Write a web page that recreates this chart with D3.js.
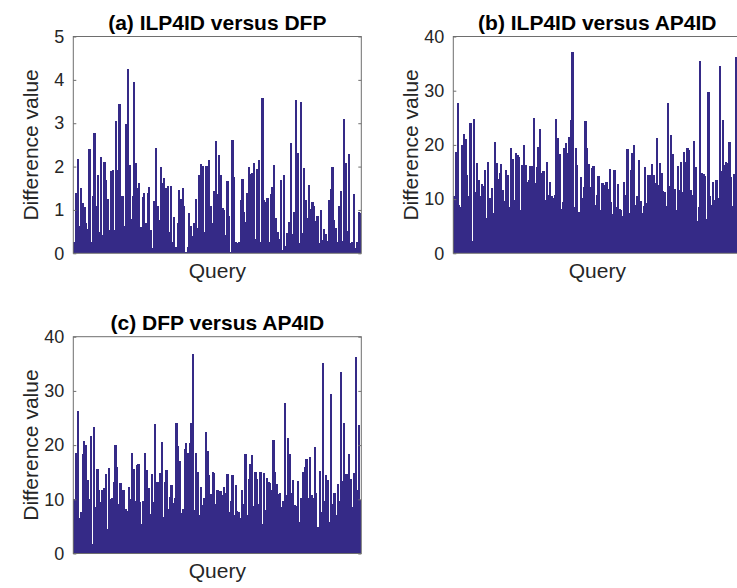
<!DOCTYPE html>
<html>
<head>
<meta charset="utf-8">
<script src="https://cdn.jsdelivr.net/npm/d3@7"></script>
<style>
  body { margin: 0; background: #fff; }
  svg { display: block; font-family: "Liberation Sans", Arial, Helvetica, sans-serif; }
</style>
</head>
<body>
<script>
// difference values per query
const diffA = [0.27,1.4,2.17,0.63,1.5,1.15,1.07,0.7,0.55,2.4,0.27,1.32,2.78,1.09,1.8,0.48,2.23,0.42,2.1,1.7,1.25,0.54,1.9,1.92,0.54,3.06,1.92,3.45,1.32,1.32,0.62,2.98,4.25,2.04,0.8,1.32,3.96,2.09,1.5,1.63,0.6,1.3,1.38,0.69,1.4,1.52,0.54,0.12,1.2,2.42,1.09,0.77,2.0,1.62,1.73,1.5,1.55,
  0.5,1.55,0.27,0.83,0.15,0.69,1.46,1.25,1.5,1.09,0.04,0.14,0.92,0.62,0.4,0.71,1.25,0.58,1.81,2.06,2.02,0.48,2.02,2.02,2.15,1.09,0.71,1.44,2.6,1.37,2.27,1.81,1.04,1.0,0.42,1.67,0.86,0.04,2.62,1.77,0.27,0.23,0.27,1.23,1.71,0.96,0.73,1.38,2.0,1.83,1.85,2.09,0.32,1.95,
  2.15,0.27,3.58,1.22,1.19,1.27,0.27,1.37,1.54,2.04,0.81,0.5,0.32,1.68,0.08,1.81,0.17,0.46,0.73,2.55,0.45,0.96,3.54,2.31,0.23,3.5,0.46,1.96,1.22,0.81,1.58,1.02,1.19,1.08,0.75,0.85,0.23,1.0,0.31,0.55,0.45,0.29,1.23,1.48,2.0,0.77,0.58,0.27,1.09,1.44,0.29,3.09,2.09,0.52,2.28,0.23,0.27,1.36,0.12,0.27,0.96,0.94];

const diffB = [10.5,18.6,27.7,8.9,8.6,20.0,22.0,21.0,14.5,10.6,24.0,2.2,24.8,11.4,16.7,13.5,10.6,12.8,12.4,15.3,6.5,16.9,10.2,12.0,7.4,20.6,16.7,13.7,14.8,16.5,11.7,9.7,15.4,14.5,8.5,19.4,17.4,9.8,18.5,18.2,17.8,8.0,16.3,20.0,16.3,13.2,13.5,16.1,16.1,24.9,13.0,16.0,19.7,22.9,14.8,15.1,9.8,16.9,10.8,
  13.2,10.6,10.2,10.8,24.7,21.2,18.3,8.1,9.4,19.4,20.4,18.5,21.4,24.6,37.2,8.6,19.4,16.3,7.7,14.0,10.2,12.3,24.5,19.4,16.5,12.2,15.7,16.1,8.9,10.8,14.3,8.0,13.0,13.0,12.6,13.2,11.8,15.5,9.5,7.3,15.4,8.5,12.8,8.1,8.0,6.8,13.2,10.8,19.3,7.5,15.3,18.5,20.0,8.9,10.6,17.2,9.7,7.5,8.7,15.9,9.2,14.5,
  14.5,16.5,14.5,13.0,21.2,12.6,16.7,14.8,11.5,11.4,8.7,27.8,12.4,21.8,18.3,11.8,7.9,16.1,11.6,16.9,11.4,18.6,16.9,19.4,19.1,11.6,10.8,20.7,15.9,6.0,8.6,35.4,14.8,14.6,14.2,6.3,29.8,10.6,8.9,13.2,9.8,13.5,10.2,34.6,15.1,24.6,16.3,16.9,16.7,20.6,14.0,8.7,14.6,36.3,11.8,12.5,20.0];

const diffC = [10.0,18.5,26.3,6.5,7.7,18.3,20.7,20.0,13.5,10.0,21.7,1.8,23.4,8.6,15.5,11.7,9.5,11.8,12.0,14.6,4.6,15.7,10.0,10.2,13.2,20.0,16.0,9.2,13.0,11.8,11.8,8.3,7.9,12.2,10.0,18.5,15.5,9.7,16.3,16.5,9.5,5.4,9.7,18.6,15.4,12.0,7.3,14.6,9.5,23.9,13.2,13.2,14.8,20.6,6.8,13.2,15.4,8.3,10.5,
  12.6,9.4,10.2,24.0,19.8,17.1,7.5,8.3,19.2,20.3,18.5,20.3,24.0,36.9,8.1,18.6,15.1,7.1,12.2,8.9,10.2,22.5,19.0,14.5,11.0,15.0,14.8,9.2,11.7,11.6,11.6,10.8,12.2,11.1,14.6,7.7,9.7,14.5,7.1,12.6,7.9,7.7,6.6,11.8,9.1,18.3,7.1,13.8,16.5,18.2,8.7,15.1,13.8,9.2,15.1,5.5,14.9,
  8.0,14.0,13.2,13.0,11.7,20.9,15.1,12.8,11.0,11.2,8.5,9.7,27.8,10.8,21.4,18.3,11.2,13.5,8.9,8.7,13.4,5.8,10.3,15.1,16.0,17.4,10.2,17.8,10.8,10.2,19.7,11.1,4.9,15.3,7.7,35.2,9.7,14.5,13.5,5.8,29.5,9.1,11.1,7.1,12.9,9.7,33.4,13.4,24.0,14.6,14.6,18.3,13.7,8.5,14.9,36.2,11.7,23.7,9.8];

const ticksA = [0, 1, 2, 3, 4, 5];
const ticksB = [0, 10, 20, 30, 40];
const ticksC = [0, 10, 20, 30, 40];
const titles = ["(a) ILP4ID versus DFP", "(b) ILP4ID versus AP4ID", "(c) DFP versus AP4ID"];

const width = 737, height = 588;
const plotW = 288, plotH = 216.8;
const barColor = "#352a87";
const axisColor = "#6e6e6e";
const textColor = "#262626";

const svg = d3.select("body").append("svg")
  .attr("width", width)
  .attr("height", height);

const panels = [
  { title: titles[0], values: diffA, ticks: ticksA, left: 73.3, top: 36.5 },
  { title: titles[1], values: diffB, ticks: ticksB, left: 453.3, top: 36.5 },
  { title: titles[2], values: diffC, ticks: ticksC, left: 73.3, top: 336.7 }
];

panels.forEach(p => {
  const g = svg.append("g").attr("transform", `translate(${p.left},${p.top})`);

  const x = d3.scaleBand()
    .domain(d3.range(p.values.length))
    .range([0, plotW])
    .padding(0);

  const y = d3.scaleLinear()
    .domain([0, d3.max(p.ticks)])
    .range([plotH, 0]);

  // bars, overlapping a touch so the fill reads as solid
  g.append("g")
    .attr("shape-rendering", "crispEdges")
    .selectAll("rect")
    .data(p.values)
    .join("rect")
    .attr("x", (d, i) => x(i))
    .attr("width", (d, i) => i === p.values.length - 1 ? x.bandwidth() : x.bandwidth() + 0.6)
    .attr("y", d => y(d))
    .attr("height", d => plotH - y(d))
    .attr("fill", barColor);

  // box
  g.append("rect")
    .attr("x", 0).attr("y", 0)
    .attr("width", plotW).attr("height", plotH)
    .attr("fill", "none")
    .attr("stroke", axisColor)
    .attr("stroke-width", 1);

  // left axis, ticks inside
  const yAxis = g.append("g")
    .call(d3.axisLeft(y).tickValues(p.ticks).tickSize(-3).tickPadding(9).tickFormat(d3.format("d")));
  yAxis.select(".domain").remove();
  yAxis.selectAll("line").attr("stroke", axisColor);
  yAxis.selectAll("text")
    .attr("fill", textColor)
    .style("font-size", "18px")
    .style("font-family", "'Liberation Sans', Arial, sans-serif");

  // right axis ticks inside, no labels
  const yRight = g.append("g")
    .attr("transform", `translate(${plotW},0)`)
    .call(d3.axisRight(y).tickValues(p.ticks).tickSize(-3).tickFormat(""));
  yRight.select(".domain").remove();
  yRight.selectAll("line").attr("stroke", axisColor);

  // title
  g.append("text")
    .attr("x", plotW / 2)
    .attr("y", -6.5)
    .attr("text-anchor", "middle")
    .attr("fill", "#000")
    .style("font-size", "21px")
    .style("font-weight", "bold")
    .text(p.title);

  // x label
  g.append("text")
    .attr("x", plotW / 2)
    .attr("y", plotH + 25)
    .attr("text-anchor", "middle")
    .attr("fill", textColor)
    .style("font-size", "21px")
    .text("Query");

  // y label
  g.append("text")
    .attr("transform", `translate(${-35},${plotH / 2}) rotate(-90)`)
    .attr("text-anchor", "middle")
    .attr("fill", textColor)
    .style("font-size", "21px")
    .text("Difference value");
});
</script>
</body>
</html>
